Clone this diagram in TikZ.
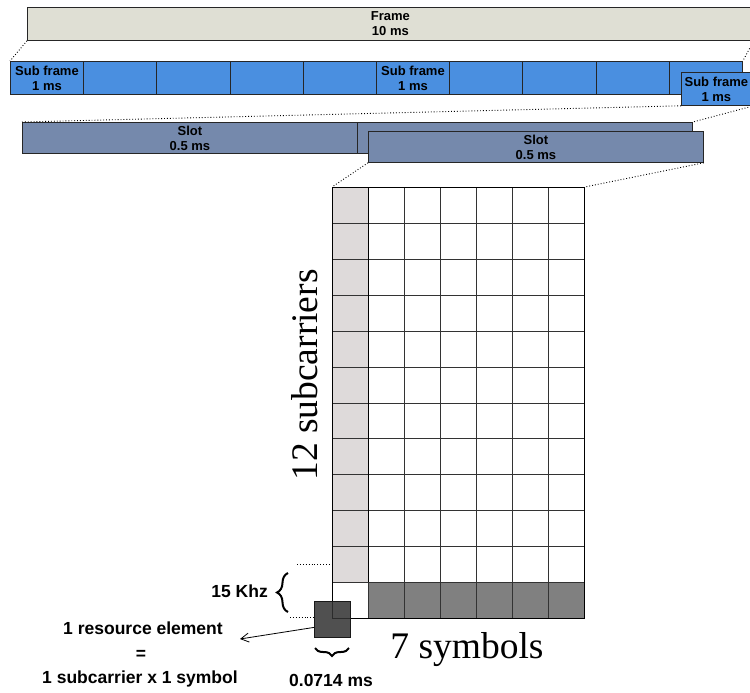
\documentclass[tikz,border=0pt]{standalone}
\usepackage{fontspec}
\setmainfont{Liberation Sans}
\newfontfamily\serifbig{Liberation Serif}
\usetikzlibrary{arrows.meta,decorations.pathreplacing}
\definecolor{framec}{HTML}{DFDFD4}
\definecolor{subc}{HTML}{4A8FE0}
\definecolor{slotc}{HTML}{7589AC}
\definecolor{cellc}{HTML}{DEDADA}
\definecolor{rowc}{HTML}{808080}
\begin{document}
\begin{tikzpicture}[x=1pt,y=-1pt,
  box/.style={draw=black!85, line width=0.8pt, rectangle, anchor=north west, inner sep=0},
  lbl/.style={font=\bfseries\fontsize{13}{15}\selectfont, align=center, inner sep=0},
  biglbl/.style={font=\bfseries\fontsize{17.5}{20}\selectfont, inner sep=0},
  serlbl/.style={font=\serifbig\fontsize{37.5}{40}\selectfont, inner sep=0},
  dots/.style={dotted, line width=0.9pt},
  cell/.style={draw=black!80, line width=0.8pt, rectangle, anchor=north west, inner sep=0, minimum width=36pt, minimum height=35.92pt},
  brc/.style={decorate, line width=2pt}]
\useasboundingbox (0,0) rectangle (750,693);

% frame
\node[box, fill=framec, minimum width=726pt, minimum height=33pt] (frame) at (27,7) {};
\node[lbl] at (frame.center) {Frame\\10 ms};

% sub frames
\foreach \i in {0,...,9}{
  \node[box, fill=subc, minimum width=73.2pt, minimum height=33pt] (sf\i) at ({10+73.2*\i},61) {};
}
\node[lbl] at (sf0.center) {Sub frame\\1 ms};
\node[lbl] at (sf5.center) {Sub frame\\1 ms};
\node[box, fill=subc, minimum width=70pt, minimum height=33pt] (sfR) at (681,72) {};
\node[lbl] at (sfR.center) {Sub frame\\1 ms};

% slots
\node[box, fill=slotc, minimum width=335pt, minimum height=31pt] (slotA) at (22,122) {};
\node[box, fill=slotc, minimum width=335pt, minimum height=31pt] (slotB) at (357,122) {};
\node[lbl] at (slotA.center) {Slot\\0.5 ms};
\node[box, fill=slotc, minimum width=335pt, minimum height=31pt] (slotC) at (368,131) {};
\node[lbl] at (slotC.center) {Slot\\0.5 ms};

% dotted zoom lines
\draw[dots] (frame.south west) -- (sf0.north west);
\draw[dots] (frame.south east) -- (sf9.north east);
\draw[dots] (sfR.south west) -- (slotA.north west);
\draw[dots] ([xshift=2pt]sfR.south east) -- (slotB.north east);

% grid
\foreach \r in {0,...,11}{
  \foreach \c in {0,...,6}{
    \node[cell, fill=white] (c-\r-\c) at ({332+36*\c},{187+35.92*\r}) {};
  }
}
\foreach \r in {0,...,10}{
  \node[cell, fill=cellc] at (c-\r-0.north west) {};
}
\foreach \c in {1,...,6}{
  \node[cell, fill=rowc] at (c-11-\c.north west) {};
}
\draw[line width=1pt, black] (c-0-0.north west) rectangle (c-11-6.south east);
\draw[line width=1pt, black] (c-11-0.north east) -- (c-0-0.north east);

\draw[dots] (slotC.south west) -- (c-0-0.north west);
\draw[dots] (slotC.south east) -- (c-0-6.north east);

% resource element
\node[draw=black!90, line width=0.8pt, fill=black!80, fill opacity=0.86, rectangle, anchor=north west, inner sep=0, minimum size=36pt] (re) at (314,601) {};

% 15 kHz
\coordinate (k1) at (297,564);
\coordinate (k2) at (290,617);
\draw[dots] (k1) -- (k1 -| c-10-0.west);
\draw[dots] (k2) -- (k2 -| re.west);
\draw[brc, decoration={brace, amplitude=11pt}] (288,612) -- (288,573);
\node[biglbl, anchor=east] (khz) at (268,591) {15 Khz};

% 0.0714 ms
\draw[brc, decoration={brace, amplitude=8pt}] (349,648) -- (315,648);
\node[biglbl] (dur) at (331,680) {0.0714 ms};

% labels
\node[serlbl, anchor=base] (sym) at (467,658) {7 symbols};
\node[serlbl, anchor=base, rotate=90] (sub) at (317,375) {12 subcarriers};

\node[biglbl] (re1) at (143,628) {1 resource element};
\node[biglbl] (re2) at (141,655) {=};
\node[biglbl] (re3) at (140,679) {1 subcarrier x 1 symbol};
\coordinate (tip) at (240,639);
\draw[line width=0.8pt, -{Straight Barb[length=8pt,width=9pt]}] ([yshift=-8pt]re.west) -- (tip);
\end{tikzpicture}
\end{document}
